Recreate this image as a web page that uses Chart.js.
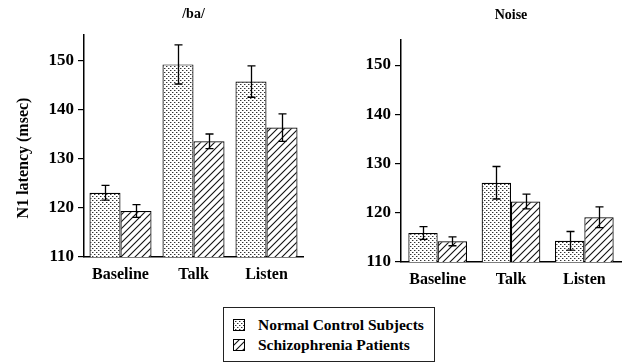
<!DOCTYPE html>
<html>
<head>
<meta charset="utf-8">
<script src="https://cdn.jsdelivr.net/npm/chart.js@4.4.1/dist/chart.umd.min.js"></script>
<style>
    body { margin: 0; background: #fff; }
    #wrap { position: relative; width: 624px; height: 362px; overflow: hidden; }
    #ba_box { position: absolute; left: 0; top: 0; width: 320px; height: 290px; }
    #noise_box { position: absolute; left: 320px; top: 0; width: 304px; height: 290px; }
    #legend {
        position: absolute; left: 223px; top: 307px; width: 210px; height: 53px;
        border: 1px solid #222;
        font: bold 15.5px "Liberation Serif", "Times New Roman", serif; color: #000;
    }
    .leg-row { position: absolute; left: 9px; height: 18px; line-height: 18px; }
    .leg-row canvas { position: absolute; left: 0; top: 3px; }
    .leg-row span { position: absolute; left: 25px; white-space: nowrap; }
</style>
</head>
<body>
<div id="wrap">
    <div id="ba_box"><canvas id="ba_chart"></canvas></div>
    <div id="noise_box"><canvas id="noise_chart"></canvas></div>
    <div id="legend">
        <div class="leg-row" style="top: 8px;"><canvas id="sw_normal" width="12" height="12"></canvas><span>Normal Control Subjects</span></div>
        <div class="leg-row" style="top: 28px;"><canvas id="sw_schizo" width="12" height="12"></canvas><span>Schizophrenia Patients</span></div>
    </div>
</div>

<script>
const conditions = ['Baseline', 'Talk', 'Listen'];
const seriesNames = ['Normal Control Subjects', 'Schizophrenia Patients'];

// /ba/ panel
const baNormal = [123.1, 149.3, 145.8];
const baNormalErr = [1.5, 4.0, 3.2];
const baSchizo = [119.4, 133.6, 136.4];
const baSchizoErr = [1.3, 1.5, 2.8];

// Noise panel
const noiseNormal = [115.9, 126.1, 114.3];
const noiseNormalErr = [1.3, 3.3, 1.9];
const noiseSchizo = [114.2, 122.3, 119.1];
const noiseSchizoErr = [0.9, 1.5, 2.1];

const yTicks = [110, 120, 130, 140, 150];
const yAxisTitle = 'N1 latency (msec)';

const serif = '"Liberation Serif", "Times New Roman", serif';

function dotPattern() {
    const c = document.createElement('canvas');
    c.width = 4; c.height = 4;
    const g = c.getContext('2d');
    g.fillStyle = '#fff';
    g.fillRect(0, 0, 4, 4);
    g.fillStyle = '#333';
    g.fillRect(0, 0, 1, 1);
    g.fillRect(2, 2, 1, 1);
    g.fillStyle = '#aaa';
    g.fillRect(1, 0, 1, 1);
    g.fillRect(3, 2, 1, 1);
    return g.createPattern(c, 'repeat');
}

function hatchPattern() {
    const s = 7;
    const c = document.createElement('canvas');
    c.width = s; c.height = s;
    const g = c.getContext('2d');
    g.fillStyle = '#fff';
    g.fillRect(0, 0, s, s);
    g.strokeStyle = '#111';
    g.lineWidth = 1.1;
    g.beginPath();
    g.moveTo(-1, s + 1); g.lineTo(s + 1, -1);
    g.moveTo(-1, 1); g.lineTo(1, -1);
    g.moveTo(s - 1, s + 1); g.lineTo(s + 1, s - 1);
    g.stroke();
    return g.createPattern(c, 'repeat');
}

const dots = dotPattern();
const hatch = hatchPattern();

// error bars drawn through the chart's own scales
const errorBars = {
    id: 'errorBars',
    afterDatasetsDraw(chart) {
        const ctx = chart.ctx;
        const yScale = chart.scales.y;
        ctx.save();
        ctx.strokeStyle = '#000';
        ctx.lineWidth = 1.3;
        chart.data.datasets.forEach((ds, i) => {
            const meta = chart.getDatasetMeta(i);
            meta.data.forEach((bar, j) => {
                const v = ds.data[j];
                const e = ds.errors[j];
                const top = yScale.getPixelForValue(v + e);
                const bot = yScale.getPixelForValue(v - e);
                const x = Math.round(bar.x) + 0.5;
                ctx.beginPath();
                ctx.moveTo(x, top); ctx.lineTo(x, bot);
                ctx.moveTo(x - 4, top); ctx.lineTo(x + 4, top);
                ctx.moveTo(x - 4, bot); ctx.lineTo(x + 4, bot);
                ctx.stroke();
            });
        });
        ctx.restore();
    }
};

// y title sits a little below the axis middle in the original
const sideTitle = {
    id: 'sideTitle',
    afterDraw(chart, args, opts) {
        if (!opts.text) return;
        const ctx = chart.ctx;
        ctx.save();
        ctx.translate(opts.x, opts.y);
        ctx.rotate(-Math.PI / 2);
        ctx.fillStyle = '#000';
        ctx.font = 'bold 16px ' + serif;
        ctx.textAlign = 'center';
        ctx.textBaseline = 'middle';
        ctx.fillText(opts.text, 0, 0);
        ctx.restore();
    }
};

function makeChart(id, title, normal, normalErr, schizo, schizoErr, opts) {
    const ctx = document.getElementById(id).getContext('2d');
    return new Chart(ctx, {
        type: 'bar',
        data: {
            labels: conditions,
            datasets: [{
                label: seriesNames[0],
                data: normal,
                errors: normalErr,
                backgroundColor: dots,
                borderColor: '#000',
                borderWidth: 1.2,
                borderSkipped: false
            }, {
                label: seriesNames[1],
                data: schizo,
                errors: schizoErr,
                backgroundColor: hatch,
                borderColor: '#000',
                borderWidth: 1.2,
                borderSkipped: false
            }]
        },
        options: {
            responsive: true,
            maintainAspectRatio: false,
            animation: false,
            datasets: {
                bar: { categoryPercentage: opts.catPct, barPercentage: 1 }
            },
            layout: { padding: { left: 0, right: opts.padRight, top: 0, bottom: 0 } },
            plugins: {
                legend: { display: false },
                tooltip: { enabled: false },
                title: {
                    display: true,
                    text: title,
                    fullSize: false,
                    color: '#000',
                    font: { family: serif, size: 14, weight: 'bold' },
                    padding: { top: opts.titleTop, bottom: opts.titleBottom }
                },
                sideTitle: { text: opts.yTitle, x: 24, y: 158 }
            },
            scales: {
                x: {
                    grid: { display: false, drawTicks: false },
                    border: { display: true, color: '#000', width: 1.5 },
                    ticks: {
                        color: '#000',
                        padding: 8,
                        font: { family: serif, size: 16, weight: 'bold' }
                    },
                    afterFit: s => { s.height = opts.xHeight; }
                },
                y: {
                    min: 110,
                    max: opts.yMax,
                    afterBuildTicks: s => { s.ticks = yTicks.map(v => ({ value: v })); },
                    grid: {
                        display: true,
                        drawOnChartArea: false,
                        drawTicks: true,
                        tickLength: 6,
                        color: '#000',
                        lineWidth: 1.2
                    },
                    border: { display: true, color: '#000', width: 1.5 },
                    ticks: {
                        color: '#000',
                        padding: 4,
                        font: { family: serif, size: 17, weight: 'bold' }
                    },
                    afterFit: s => { s.width = opts.yWidth; }
                }
            }
        },
        plugins: [errorBars, sideTitle]
    });
}

function drawSwatch(id, pattern) {
    const g = document.getElementById(id).getContext('2d');
    g.fillStyle = pattern;
    g.fillRect(0, 0, 12, 12);
    g.strokeStyle = '#000';
    g.lineWidth = 1;
    g.strokeRect(0.5, 0.5, 11, 11);
}

document.addEventListener('DOMContentLoaded', () => {
    makeChart('ba_chart', '/ba/', baNormal, baNormalErr, baSchizo, baSchizoErr, {
        catPct: 0.85, padRight: 17, titleTop: 6, titleBottom: 12.2,
        xHeight: 33, yMax: 155.3, yWidth: 84, yTitle: yAxisTitle
    });
    makeChart('noise_chart', 'Noise', noiseNormal, noiseNormalErr, noiseSchizo, noiseSchizoErr, {
        catPct: 0.80, padRight: 3, titleTop: 6.6, titleBottom: 16.6,
        xHeight: 28, yMax: 155.1, yWidth: 81, yTitle: ''
    });
    drawSwatch('sw_normal', dots);
    drawSwatch('sw_schizo', hatch);
});
</script>
</body>
</html>
